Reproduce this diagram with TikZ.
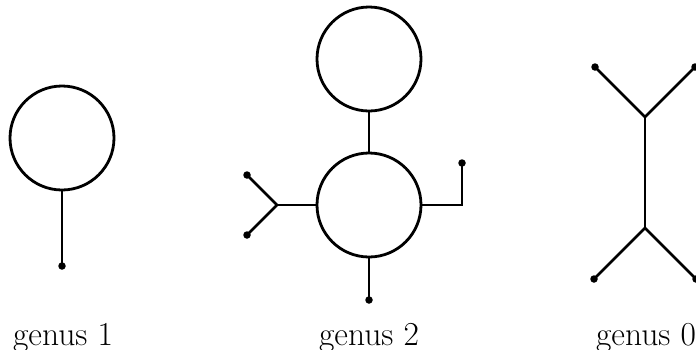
\documentclass[tikz,border=0pt]{standalone}
\usepackage{fontspec}
\setmainfont{Latin Modern Roman}
\begin{document}
\begin{tikzpicture}[x=1pt,y=-1pt,
  edge/.style={line width=2.8pt},
  loopc/.style={circle,draw,line width=2.8pt,minimum size=104pt,inner sep=0pt},
  leaf/.style={circle,fill,inner sep=0pt,minimum size=7.5pt},
  lab/.style={anchor=base,inner sep=0pt,font=\fontsize{33.5}{40}\selectfont}]
\useasboundingbox (0,0) rectangle (696,349);
% genus 1
\node[loopc] (c1) at (62,138) {};
\node[leaf] (d1) at (62,266) {};
\draw[edge] (c1.south) -- (d1.center);
\node[lab] (l1) at (63,345) {genus 1};
% genus 2
\node[loopc] (ct) at (369,59) {};
\node[loopc] (cb) at (369,205) {};
\draw[edge] (ct.south) -- (cb.north);
\node[leaf] (db) at (369,300) {};
\draw[edge] (cb.south) -- (db.center);
\coordinate (jl) at (277,205);
\node[leaf] (dl1) at (247,175) {};
\node[leaf] (dl2) at (247,235) {};
\draw[edge] (cb.west) -- (jl);
\draw[edge] (dl1.center) -- (jl) -- (dl2.center);
\coordinate (jr) at (462,205);
\node[leaf] (dr) at (462,163) {};
\draw[edge,line join=miter] (cb.east) -- (jr) -- (dr.center);
\node[lab] (l2) at (369,345) {genus 2};
% genus 0
\coordinate (jt) at (645,117);
\coordinate (jb) at (645,228);
\node[leaf] (g1) at (595,67) {};
\node[leaf] (g2) at (695,67) {};
\node[leaf] (g3) at (594,279) {};
\node[leaf] (g4) at (696,279) {};
\draw[edge] (g1.center) -- (jt) -- (g2.center);
\draw[edge] (jt) -- (jb);
\draw[edge] (g3.center) -- (jb) -- (g4.center);
\node[lab] (l3) at (646,345) {genus 0};
\end{tikzpicture}
\end{document}
